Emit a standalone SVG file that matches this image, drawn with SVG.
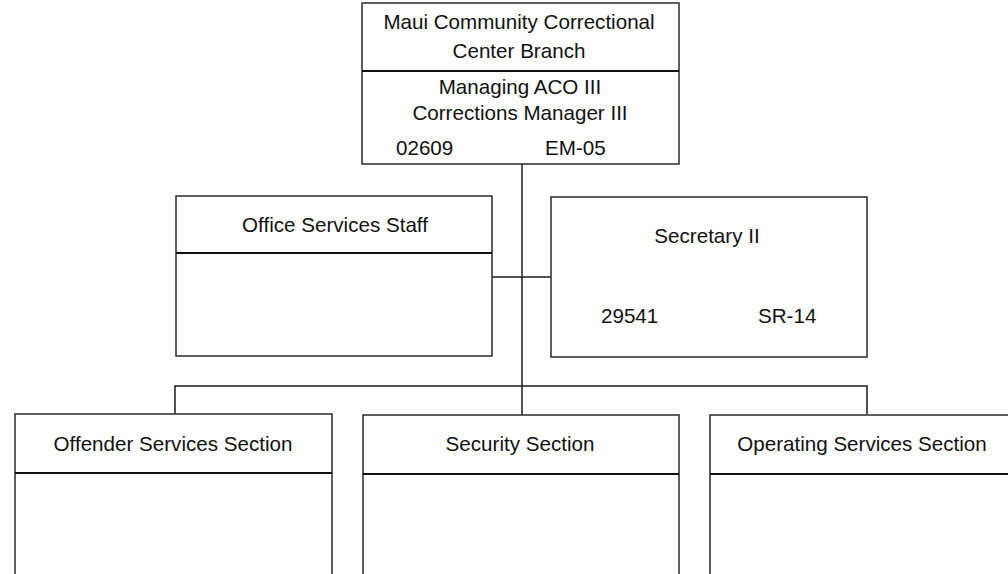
<svg xmlns="http://www.w3.org/2000/svg" width="1008" height="574" viewBox="0 0 1008 574">
<style>
.box{fill:#fff;stroke:#2a2a2a;stroke-width:1.5}
.div{stroke:#111;stroke-width:2}
.con{stroke:#1a1a1a;stroke-width:1.5;fill:none}
text{font-family:"Liberation Sans",Arial,sans-serif;font-size:20.6px;fill:#111}
.c{text-anchor:middle}
</style>
<rect width="1008" height="574" fill="#fff"/>
<g id="connectors">
<line class="con" x1="522" y1="164" x2="522" y2="386"/>
<line class="con" x1="492" y1="277" x2="551" y2="277"/>
<polyline class="con" points="175,414 175,386 867,386 867,414"/>
<line class="con" x1="522" y1="386" x2="522" y2="415"/>
</g>
<g id="maui">
<rect class="box" x="362" y="3" width="317" height="161"/>
<line class="div" x1="362" y1="71" x2="679" y2="71"/>
<text class="c" x="519" y="29">Maui Community Correctional</text>
<text class="c" x="519" y="58">Center Branch</text>
<text class="c" x="520" y="94">Managing ACO III</text>
<text class="c" x="520" y="120">Corrections Manager III</text>
<text x="396" y="155">02609</text>
<text x="545" y="155">EM-05</text>
</g>
<g id="office">
<rect class="box" x="176" y="196" width="316" height="160"/>
<line class="div" x1="176" y1="253" x2="492" y2="253"/>
<text class="c" x="335" y="232">Office Services Staff</text>
</g>
<g id="secretary">
<rect class="box" x="551" y="197" width="316" height="160"/>
<text class="c" x="707" y="243">Secretary II</text>
<text x="601" y="323">29541</text>
<text x="758" y="323">SR-14</text>
</g>
<g id="offender">
<rect class="box" x="15" y="414" width="317" height="170"/>
<line class="div" x1="15" y1="473" x2="332" y2="473"/>
<text class="c" x="173" y="451">Offender Services Section</text>
</g>
<g id="security">
<rect class="box" x="363" y="415" width="316" height="170"/>
<line class="div" x1="363" y1="474" x2="679" y2="474"/>
<text class="c" x="520" y="451">Security Section</text>
</g>
<g id="operating">
<rect class="box" x="710" y="415" width="317" height="170"/>
<line class="div" x1="710" y1="474" x2="1027" y2="474"/>
<text class="c" x="862" y="451">Operating Services Section</text>
</g>
</svg>
